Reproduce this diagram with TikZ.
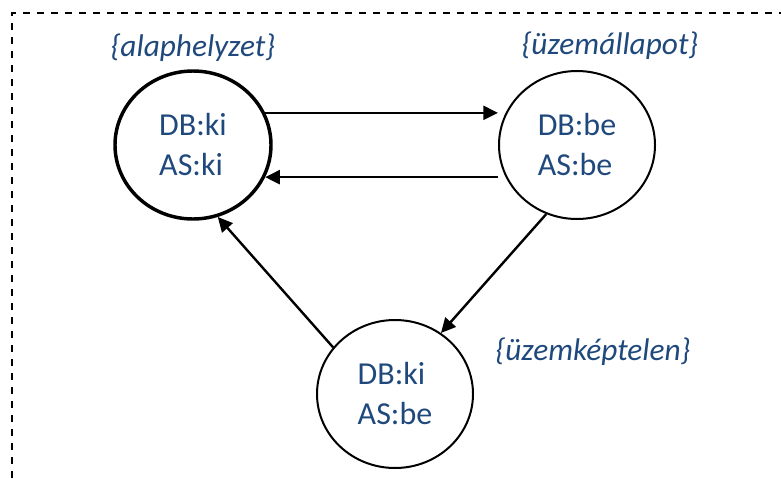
\documentclass[tikz,border=0pt]{standalone}
\usepackage{fontspec}
\setmainfont{Carlito}
\usetikzlibrary{arrows.meta,positioning,shapes.geometric}
\definecolor{allapkek}{HTML}{1F497D}

\begin{document}
\begin{tikzpicture}[on grid,
 allapot/.style={ellipse,draw,line width=1.5pt,minimum width=117pt,minimum height=111pt,inner sep=0pt,text=allapkek,align=left,font=\fontsize{24}{30}\selectfont},
 nev/.style={text=allapkek,font=\fontsize{23.5}{26}\selectfont\itshape},
 nyil/.style={-{Triangle[length=11pt,width=10.5pt]},line width=1.8pt}]

 \useasboundingbox (0,0) rectangle (585.75pt,-358.5pt);
 \draw[dash pattern=on 5.25pt off 5.25pt,line width=1pt] (9pt,-358.5pt) -- (9pt,-9.75pt) -- (585.75pt,-9.75pt);

 \node[allapot,line width=2.6pt] (alap) at (144.75pt,-108.75pt) {DB:ki\\AS:ki};
 \node[allapot] (uzem) [right=288pt of alap] {DB:be\\AS:be};
 \node[allapot] (kept) [below right=186.75pt and 151.5pt of alap] {DB:ki\\AS:be};

 \node[nev] (alapnev) [above=72.75pt of alap] {\{alaphelyzet\}};
 \node[nev] (uzemnev) [above right=74.25pt and 24.75pt of uzem] {\{üzemállapot\}};
 \node[nev] (keptnev) [above right=31.5pt and 148.5pt of kept] {\{üzemképtelen\}};

 \draw[nyil] (alap.24) -- (alap.24 -| uzem.west);
 \draw[nyil] (alap.-24 -| uzem.west) -- (alap.-24);
 \draw[nyil] (uzem.246) -- (kept.53);
 \draw[nyil] (kept.143) -- (alap.-71);
\end{tikzpicture}
\end{document}
